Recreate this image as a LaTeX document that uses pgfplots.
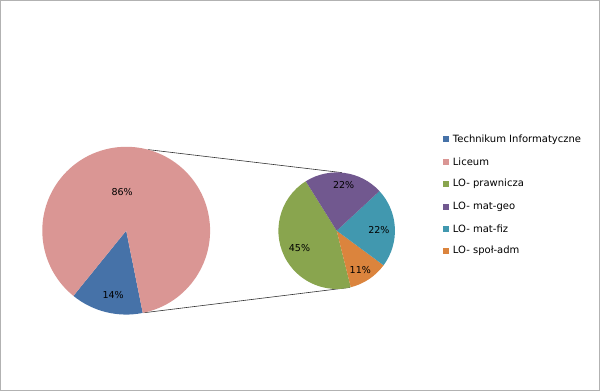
\documentclass[border=0pt]{standalone}
\usepackage{pgfplots}
\pgfplotsset{compat=1.18}
\usepackage{fontspec}
\setmainfont{DejaVu Sans}
\definecolor{cblue}{HTML}{4672A8}
\definecolor{cpink}{HTML}{DA9694}
\definecolor{cgreen}{HTML}{89A54E}
\definecolor{cpurple}{HTML}{71588F}
\definecolor{cteal}{HTML}{4198AF}
\definecolor{corange}{HTML}{DB843D}
\begin{document}
\begin{tikzpicture}
\begin{axis}[
  x=1bp, y=1bp, xmin=0, xmax=600, ymin=0, ymax=393,
  hide axis, clip=false, scale only axis,
]
% frame
\draw[gray!60, line width=1.2bp] (axis cs:2,3) rectangle (axis cs:598,391);
% connector lines
\draw[black!80, line width=0.6bp] (axis cs:148.6,242.7) -- (axis cs:341.6,219.8);
\draw[black!80, line width=0.6bp] (axis cs:144.4,80.3) -- (axis cs:349.5,105.5);
% main pie: Technikum 14, Liceum 86, starting at 231 deg
\gdef\curang{231}
\foreach \val/\col in {14/cblue, 86/cpink}{
  \pgfmathsetmacro{\endang}{\curang+3.6*\val}
  \edef\cmd{\noexpand\fill[\col] (axis cs:127,162) -- ++(\curang:83.5bp) arc[start angle=\curang, end angle=\endang, radius=83.5bp] -- cycle;}
  \cmd
  \xdef\curang{\endang}
}
% secondary pie: prawnicza 45, spol-adm 11, mat-fiz 22, mat-geo 22, starting at 122 deg
\gdef\curang{122}
\foreach \val/\col in {45/cgreen, 11/corange, 22/cteal, 22/cpurple}{
  \pgfmathsetmacro{\endang}{\curang+3.6*\val}
  \edef\cmd{\noexpand\fill[\col] (axis cs:336.5,162) -- ++(\curang:58bp) arc[start angle=\curang, end angle=\endang, radius=58bp] -- cycle;}
  \cmd
  \xdef\curang{\endang}
}
% labels
\begin{scope}[font=\fontsize{9.5}{11}\selectfont]
\node at (axis cs:123,200) {86\%};
\node at (axis cs:114,98) {14\%};
\node at (axis cs:343.5,207) {22\%};
\node at (axis cs:378.5,163) {22\%};
\node at (axis cs:360,123) {11\%};
\node at (axis cs:299.5,145) {45\%};
\end{scope}
% legend
\foreach \yy/\col/\txt in {253/cblue/Technikum Informatyczne, 230.7/cpink/Liceum, 208.5/cgreen/LO- prawnicza, 186/cpurple/LO- mat-geo, 164/cteal/LO- mat-fiz, 141.7/corange/LO- społ-adm}{
  \edef\cmd{\noexpand\fill[\col] (axis cs:442,\yy-3) rectangle (axis cs:448,\yy+3);
  \noexpand\node[anchor=west, inner sep=0pt, font=\noexpand\fontsize{10}{11}\noexpand\selectfont] at (axis cs:452,\yy) {\txt};}
  \cmd
}
\end{axis}
\end{tikzpicture}
\end{document}
